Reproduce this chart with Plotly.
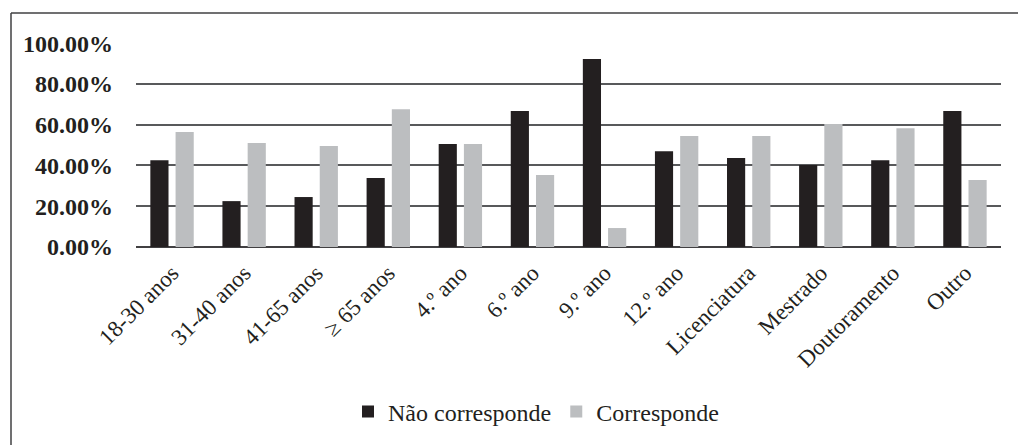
import plotly.graph_objects as go

categories = ["18-30 anos", "31-40 anos", "41-65 anos", "≥ 65 anos", "4.º ano", "6.º ano",
              "9.º ano", "12.º ano", "Licenciatura", "Mestrado", "Doutoramento", "Outro"]
nao_corresponde = [0.426, 0.225, 0.245, 0.338, 0.505, 0.667, 0.922, 0.470, 0.436, 0.402, 0.426, 0.667]
corresponde = [0.564, 0.510, 0.495, 0.676, 0.505, 0.353, 0.093, 0.544, 0.544, 0.603, 0.583, 0.328]
y_ticks = [0, 0.2, 0.4, 0.6, 0.8, 1.0]

# page body has an 8px margin, so the figure is drawn 8px smaller and coordinates shifted
OFF = 8
W, H = 1026 - OFF, 445 - OFF
# plot area in reference (window) pixels: x 136..1001, y 43..247
L_REF, R_REF, T_REF, B_REF = 136, 1001, 43, 247
ML = L_REF - OFF
MT = T_REF - OFF
MR = 1026 - R_REF
MB = 445 - B_REF
PW = W - ML - MR
PH = H - MT - MB

FONT = "'Liberation Serif', 'Times New Roman', serif"
TXT = "#231f20"

fig = go.Figure()
fig.add_trace(go.Bar(name="Não corresponde", x=categories, y=nao_corresponde,
                     marker=dict(color="#231f20", line=dict(width=0))))
fig.add_trace(go.Bar(name="Corresponde", x=categories, y=corresponde,
                     marker=dict(color="#bcbec0", line=dict(width=0))))

def px_x(p):  # reference window pixel -> paper
    return (p - OFF - ML) / PW

def px_y(p):
    return (H - MB - (p - OFF)) / PH

# outer frame (cut off at right and bottom like the reference)
fig.add_shape(type="line", xref="paper", yref="paper",
              x0=px_x(11), x1=px_x(1040), y0=px_y(13), y1=px_y(13),
              line=dict(color="#414042", width=1.5))
fig.add_shape(type="line", xref="paper", yref="paper",
              x0=px_x(11), x1=px_x(11), y0=px_y(13), y1=px_y(460),
              line=dict(color="#414042", width=1.5))

fig.update_layout(
    width=W, height=H,
    margin=dict(l=ML, r=MR, t=MT, b=MB, autoexpand=False),
    plot_bgcolor="white", paper_bgcolor="white",
    barmode="group", bargap=0.30, bargroupgap=0.28,
    font=dict(family=FONT, color=TXT),
    showlegend=True,
    legend=dict(orientation="h", x=px_x(348), xanchor="left", y=px_y(412), yanchor="middle",
                font=dict(family=FONT, size=24, color=TXT), bgcolor="rgba(0,0,0,0)",
                itemclick=False, traceorder="normal"),
    xaxis=dict(tickangle=-45, tickfont=dict(family=FONT, size=23, color=TXT),
               showgrid=False, showline=False, ticks="", zeroline=False,
               ticklabelstandoff=7),
    yaxis=dict(range=[0, 1.0005], tickvals=y_ticks, tickformat=".2%",
               tickfont=dict(family=FONT, size=24, color=TXT, weight="bold"),
               showgrid=True, gridcolor="#58595b", gridwidth=1.5,
               zeroline=True, zerolinecolor="#414042", zerolinewidth=1.5,
               showline=False, ticks="", ticklabelstandoff=22),
)

fig.write_html("out.html")
